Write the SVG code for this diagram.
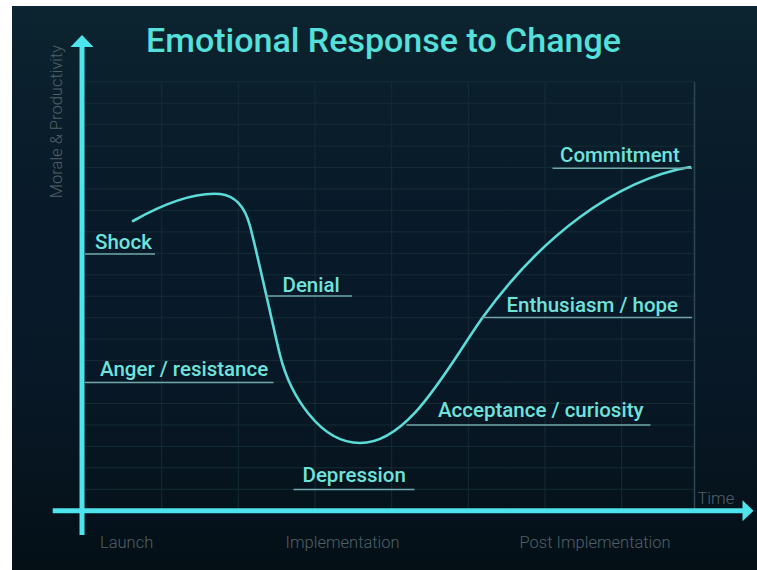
<svg xmlns="http://www.w3.org/2000/svg" width="757" height="570" viewBox="0 0 757 570">
<defs>
<linearGradient id="bg" x1="0" y1="0" x2="0" y2="1">
<stop offset="0" stop-color="#0c2530"/>
<stop offset="0.5" stop-color="#08192222"/>
<stop offset="1" stop-color="#040f16"/>
</linearGradient>
<style>
.title{font-family:Roboto,"Liberation Sans",sans-serif;font-weight:500;font-size:34px;fill:#55e0dc}
.lbl{font-family:Roboto,"Liberation Sans",sans-serif;font-weight:500;font-size:20.5px;fill:#6fe2dc}
.ax{font-family:Roboto,"Liberation Sans",sans-serif;font-weight:300;font-size:16.5px;fill:#4f6068}
.grid{stroke:#152c35;stroke-width:1;fill:none}
.ul{stroke:#6fa8a8;stroke-width:1.5;fill:none}
.axis{stroke:#4ee4ec;stroke-width:5;fill:none}
.curve{stroke:#5cdcd8;stroke-width:2.6;fill:none;stroke-linecap:round}
</style>
</defs>
<rect x="0" y="0" width="757" height="570" fill="#ffffff"/>
<rect x="12" y="6" width="745" height="564" fill="#08192b"/>
<rect x="12" y="6" width="745" height="564" fill="url(#bg)"/>
<g id="grid">
<path class="grid" d="M85,81.7H694M85,103.2H694M85,124.6H694M85,146.1H694M85,167.5H694M85,189H694M85,210.4H694M85,231.9H694M85,253.3H694M85,274.8H694M85,296.2H694M85,317.7H694M85,339.1H694M85,360.6H694M85,382H694M85,403.5H694M85,424.9H694M85,446.4H694M85,467.8H694M85,489.3H694"/>
<path class="grid" d="M161.7,81.7V511M238.3,81.7V511M315,81.7V511M391.7,81.7V511M468.3,81.7V511M545,81.7V511M621.7,81.7V511"/>
<path d="M694.5,81.7V511" stroke="#2c4750" stroke-width="1.5" fill="none"/>
</g>
<text class="title" x="383.5" y="52.3" text-anchor="middle">Emotional Response to Change</text>
<g id="axes">
<path class="axis" d="M82,46V535"/>
<polygon points="82,35 70.5,47 93.5,47" fill="#4ee4ec"/>
<path class="axis" d="M52.7,510.7H743"/>
<polygon points="753.5,510.7 742.5,500.2 742.5,521.2" fill="#4ee4ec"/>
</g>
<text class="ax" transform="translate(61.5,121.5) rotate(-90)" text-anchor="middle" font-size="15.5">Morale &amp; Productivity</text>
<text class="ax" x="100" y="547.5">Launch</text>
<text class="ax" x="285.5" y="547.5">Implementation</text>
<text class="ax" x="519.5" y="547.5">Post Implementation</text>
<text class="ax" x="697.5" y="504">Time</text>
<g id="connectors">
<path class="curve" d="M133,221 C165,203 195,192 220,194 C235,195.5 245,207 250,226 C258,256 276,340 280,355 C290,395 320,443 360,443 C410,443 448,366 483,317 C540,238 615,180 690,167"/>
</g>
<g id="shock"><path class="ul" d="M85,254H155"/><text class="lbl" x="95" y="249">Shock</text></g>
<g id="denial"><path class="ul" d="M266,296H352"/><text class="lbl" x="282.5" y="291.5">Denial</text></g>
<g id="anger"><path class="ul" d="M85,382.5H273.5"/><text class="lbl" x="100" y="376">Anger / resistance</text></g>
<g id="depression"><path class="ul" d="M293.5,489.5H414.5"/><text class="lbl" x="302.5" y="481.5">Depression</text></g>
<g id="acceptance"><path class="ul" d="M406.5,425H650.5"/><text class="lbl" x="438" y="416.5">Acceptance / curiosity</text></g>
<g id="enthusiasm"><path class="ul" d="M482,317.5H692"/><text class="lbl" x="506.5" y="312">Enthusiasm / hope</text></g>
<g id="commitment"><path class="ul" d="M552.5,168.3H692"/><text class="lbl" x="560" y="161.5">Commitment</text></g>
</svg>
